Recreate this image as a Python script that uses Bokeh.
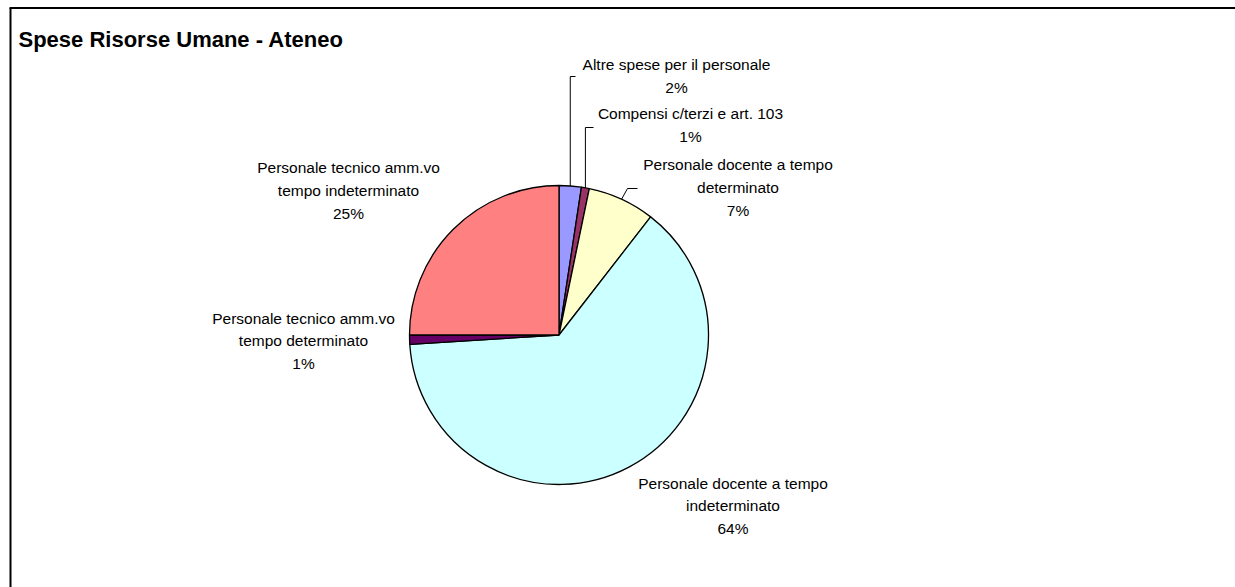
import numpy as np
from bokeh.plotting import figure
from bokeh.models import ColumnDataSource, Range1d
from bokeh.core.properties import value
from bokeh.embed import file_html
from bokeh.resources import INLINE

# ---------------- data ----------------
title = "Spese Risorse Umane - Ateneo"
categories = [
    "Altre spese per il personale",
    "Compensi c/terzi e art. 103",
    "Personale docente a tempo determinato",
    "Personale docente a tempo indeterminato",
    "Personale tecnico amm.vo tempo determinato",
    "Personale tecnico amm.vo tempo indeterminato",
]
label_names = [
    "Altre spese per il personale",
    "Compensi c/terzi e art. 103",
    "Personale docente a tempo\ndeterminato",
    "Personale docente a tempo\nindeterminato",
    "Personale tecnico amm.vo\ntempo determinato",
    "Personale tecnico amm.vo\ntempo indeterminato",
]
shares = [2.4, 0.85, 7.25, 63.5, 1.0, 25.0]
colors = ["#9999FF", "#993366", "#FFFFCC", "#CCFFFF", "#660066", "#FF8080"]

# ---------------- layout (page pixels) ----------------
W, H = 1235, 587
def px(x):
    return x
def py(y):
    return H - y

CX, CY, R = px(558.5), py(334.5), 149.5
# label block centres (page px)
label_pos = [(676, 75.5), (690, 124.5), (737.5, 187), (732.5, 505.5), (303, 340.5), (348, 190)]
# leader line bends (page px); None = no leader
leader_bends = [
    [("start", 76), (575, 76)],
    [("start", 127), (593, 127)],
    [(627, 188), (637, 188)],
    None, None, None,
]

# ---------------- compute ----------------
shares_arr = np.array(shares, dtype=float)
total = shares_arr.sum()
after = np.cumsum(shares_arr) / total
before = after - shares_arr / total
start_angle = np.pi / 2 - 2 * np.pi * before
end_angle = np.pi / 2 - 2 * np.pi * after
mid_angle = np.pi / 2 - 2 * np.pi * (before + shares_arr / total / 2)
pct = [f"{round(s / total * 100):.0f}%" for s in shares_arr]

p = figure(width=W, height=H, x_range=Range1d(0, W), y_range=Range1d(0, H),
           output_backend="svg", toolbar_location=None, min_border=0,
           outline_line_color=None, background_fill_color="white",
           border_fill_color="white")
p.axis.visible = False
p.grid.visible = False

src = ColumnDataSource(dict(start=start_angle, end=end_angle, color=colors, cat=categories))
p.wedge(x=CX, y=CY, radius=R, start_angle="start", end_angle="end", direction="clock",
        fill_color="color", line_color="black", line_width=1.3, source=src)

# leader lines
xs, ys = [], []
for i, bends in enumerate(leader_bends):
    if bends is None:
        continue
    sx = CX + R * np.cos(mid_angle[i])
    sy = CY + R * np.sin(mid_angle[i])
    lx, ly = [sx], [sy]
    for bx, by in bends:
        lx.append(sx if bx == "start" else px(bx))
        ly.append(py(by))
    xs.append(lx)
    ys.append(ly)
p.multi_line(xs=xs, ys=ys, line_color="#000000", line_width=1)

# labels
lab_src = ColumnDataSource(dict(
    x=[px(a) for a, b in label_pos],
    y=[py(b) for a, b in label_pos],
    t=[f"{n}\n{q}" for n, q in zip(label_names, pct)],
))
p.text(x="x", y="y", text="t", source=lab_src, text_font=value("Liberation Sans"),
       text_font_size="15.5px", text_align="center", text_baseline="middle",
       text_line_height=1.35, text_color="black")

# title
p.text(x=[px(18)], y=[py(38.5)], text=[title], text_font=value("Liberation Sans"),
       text_font_size="22px", text_font_style="bold", text_align="left",
       text_baseline="middle", text_color="black")

# chart area border (only top and left edges fall inside the window)
p.segment(x0=[px(10), px(9)], y0=[py(7.5), py(7.5)], x1=[px(10), px(W)], y1=[py(H), py(7.5)],
          line_color="black", line_width=2)

open("out.html", "w").write(file_html(p, INLINE))
